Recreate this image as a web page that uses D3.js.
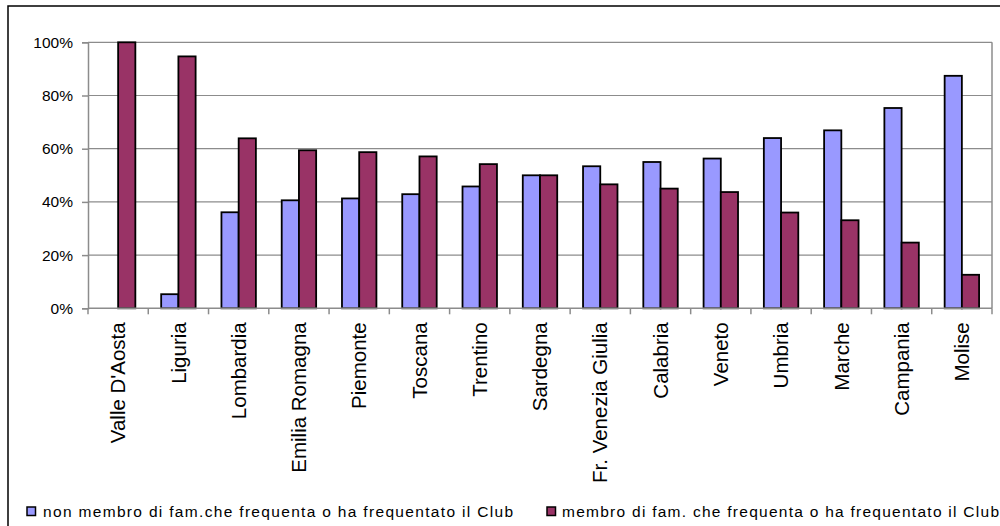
<!DOCTYPE html>
<html>
<head>
<meta charset="utf-8">
<script src="https://cdn.jsdelivr.net/npm/d3@7"></script>
<style>
  html, body { margin: 0; padding: 0; background: #fff; }
  svg { display: block; font-family: "Liberation Sans", Arial, sans-serif; }
</style>
</head>
<body>
<svg id="chart" width="1000" height="526"></svg>
<script>
const categories = ["Valle D'Aosta", "Liguria", "Lombardia", "Emilia Romagna", "Piemonte", "Toscana", "Trentino", "Sardegna", "Fr. Venezia Giulia", "Calabria", "Veneto", "Umbria", "Marche", "Campania", "Molise"];
const seriesNames = ["non membro di fam.che frequenta o ha frequentato il Club", "membro di fam. che frequenta o ha frequentato il Club"];
const nonMembro = [0, 5.3, 36.1, 40.6, 41.3, 42.9, 45.8, 50, 53.4, 55, 56.3, 64, 66.9, 75.3, 87.4];
const membro = [100, 94.7, 63.9, 59.4, 58.7, 57.1, 54.2, 50, 46.6, 45, 43.7, 36, 33.1, 24.7, 12.6];
const yTicks = [0, 20, 40, 60, 80, 100];
const colors = ["#9999FF", "#993366"];

const svg = d3.select("#chart");

// outer chart border (extends beyond the frame)
svg.append("rect").attr("x", 8).attr("y", 6).attr("width", 1100).attr("height", 700)
  .attr("fill", "none").attr("stroke", "#000").attr("stroke-width", 1.5);

const plot = { left: 88, right: 992, top: 42.3, bottom: 308.3 };

const x0 = d3.scaleBand().domain(categories).range([plot.left, plot.right]).padding(0);
const bw = x0.bandwidth() / 3.5;
const x1 = d3.scaleBand().domain([0, 1]).range([0, 2 * bw]).padding(0);
const groupOffset = (x0.bandwidth() - 2 * bw) / 2;
const y = d3.scaleLinear().domain([0, 100]).range([plot.bottom, plot.top]);

// gridlines
svg.append("g").selectAll("line").data(yTicks.filter(d => d > 0)).join("line")
  .attr("x1", plot.left).attr("x2", plot.right)
  .attr("y1", d => y(d)).attr("y2", d => y(d))
  .attr("stroke", "#8c8c8c").attr("stroke-width", 1.2);

// right plot border
svg.append("line").attr("x1", plot.right).attr("x2", plot.right)
  .attr("y1", plot.top).attr("y2", plot.bottom)
  .attr("stroke", "#8c8c8c").attr("stroke-width", 1.5);

// bars
const data = categories.map((c, i) => ({ c, vals: [nonMembro[i], membro[i]] }));
const groups = svg.append("g").selectAll("g").data(data).join("g")
  .attr("transform", d => `translate(${x0(d.c) + groupOffset},0)`);
groups.selectAll("rect").data(d => d.vals.map((v, k) => ({ v, k })).filter(e => e.v > 0)).join("rect")
  .attr("x", e => x1(e.k))
  .attr("width", x1.bandwidth())
  .attr("y", e => y(e.v))
  .attr("height", e => y(0) - y(e.v))
  .attr("fill", e => colors[e.k])
  .attr("stroke", "#000").attr("stroke-width", 1.8);

// y axis
const yAxis = d3.axisLeft(y).tickValues(yTicks).tickFormat(d => d + "%").tickSize(6).tickPadding(9);
const gy = svg.append("g").attr("transform", `translate(${plot.left},0)`).call(yAxis);
gy.select(".domain").attr("stroke", "#8c8c8c").attr("stroke-width", 1.5);
gy.selectAll(".tick line").attr("stroke", "#8c8c8c").attr("stroke-width", 1.5);
gy.selectAll(".tick text").attr("font-size", "15.5px").attr("fill", "#000")
  .attr("font-family", "Liberation Sans, Arial, sans-serif");

// x axis
const xTickPos = categories.map(c => x0(c)).concat([plot.right]);
const gx = svg.append("g");
gx.append("line").attr("x1", plot.left).attr("x2", plot.right)
  .attr("y1", plot.bottom).attr("y2", plot.bottom)
  .attr("stroke", "#8c8c8c").attr("stroke-width", 1.5);
gx.selectAll("line.tk").data(xTickPos).join("line").attr("class", "tk")
  .attr("x1", d => d).attr("x2", d => d)
  .attr("y1", plot.bottom).attr("y2", plot.bottom + 6)
  .attr("stroke", "#8c8c8c").attr("stroke-width", 1.5);
gx.selectAll("text").data(categories).join("text")
  .attr("transform", d => `translate(${x0(d) + x0.bandwidth() / 2},${plot.bottom + 14}) rotate(-90)`)
  .attr("text-anchor", "end")
  .attr("dy", "0.35em")
  .attr("font-size", "20.5px")
  .attr("fill", "#000")
  .text(d => d);

// legend
const legendItems = [
  { name: seriesNames[0], color: colors[0], sx: 27, tx: 43, len: 470 },
  { name: seriesNames[1], color: colors[1], sx: 547, tx: 562, len: 437 }
];
const lg = svg.append("g");
legendItems.forEach(it => {
  lg.append("rect").attr("x", it.sx).attr("y", 507).attr("width", 8.5).attr("height", 8.5)
    .attr("fill", it.color).attr("stroke", "#000").attr("stroke-width", 1.5);
  lg.append("text").attr("x", it.tx).attr("y", 516.5)
    .attr("font-size", "15.5px").attr("fill", "#000")
    .attr("textLength", it.len).attr("lengthAdjust", "spacing")
    .text(it.name);
});
</script>
</body>
</html>
